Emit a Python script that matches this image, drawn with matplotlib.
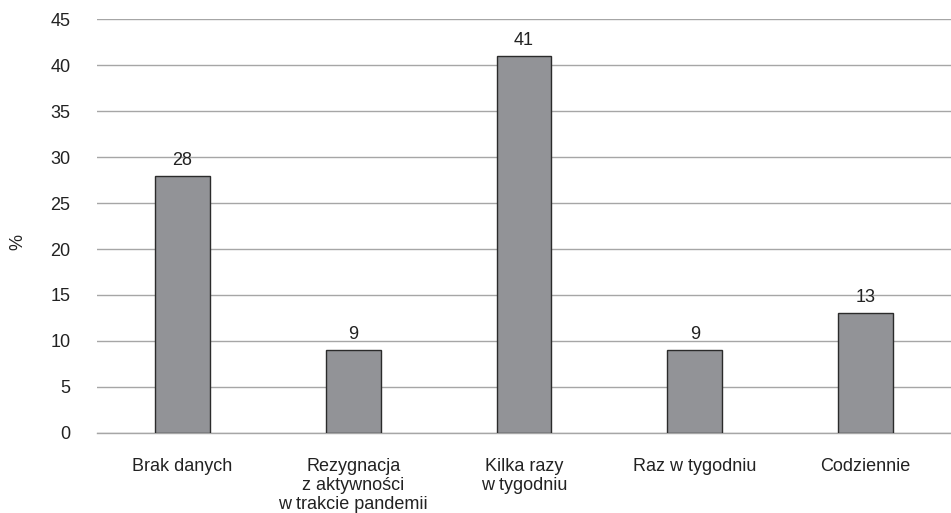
import matplotlib
matplotlib.use("Agg")
import matplotlib.pyplot as plt

categories = ["Brak danych", "Rezygnacja\nz aktywności\nw trakcie pandemii",
              "Kilka razy\nw tygodniu", "Raz w tygodniu", "Codziennie"]
values = [28, 9, 41, 9, 13]
yticks = [0, 5, 10, 15, 20, 25, 30, 35, 40, 45]

plt.rcParams["font.family"] = ["Liberation Sans", "DejaVu Sans"]
FS = 13

fig = plt.figure(figsize=(9.51, 5.13), dpi=100)
ax = fig.add_axes([0.102, 0.1565, 0.898, 0.8055])

x = list(range(len(categories)))
ax.bar(x, values, width=0.32, color="#929397", edgecolor="#2b2b2b",
       linewidth=1.0, zorder=3)
for xi, v in zip(x, values):
    ax.annotate(str(v), (xi, v), xytext=(0, 5), textcoords="offset points",
                ha="center", va="bottom", fontsize=FS, color="#222222", zorder=4)

ax.set_xlim(-0.5, len(categories) - 0.5)
ax.set_ylim(0, 45)
ax.set_yticks(yticks)
ax.set_yticklabels([str(t) for t in yticks], fontsize=FS, color="#222222")
ax.set_xticks(x)
ax.set_xticklabels(categories, fontsize=FS, color="#222222", linespacing=1.15)
ax.tick_params(axis="both", length=0)
ax.tick_params(axis="y", pad=19)
ax.tick_params(axis="x", pad=18)
ax.yaxis.grid(True, color="#a6a6a6", linewidth=1.0, zorder=0)
ax.axhline(0, color="#a6a6a6", linewidth=1.0, zorder=2, clip_on=False)
for s in ["top", "right", "left", "bottom"]:
    ax.spines[s].set_visible(False)
ax.set_ylabel("%", fontsize=FS, color="#222222", va="center", ha="center")
ax.yaxis.set_label_coords(-0.0925, 0.462)

fig.savefig("out.png", dpi=100)
